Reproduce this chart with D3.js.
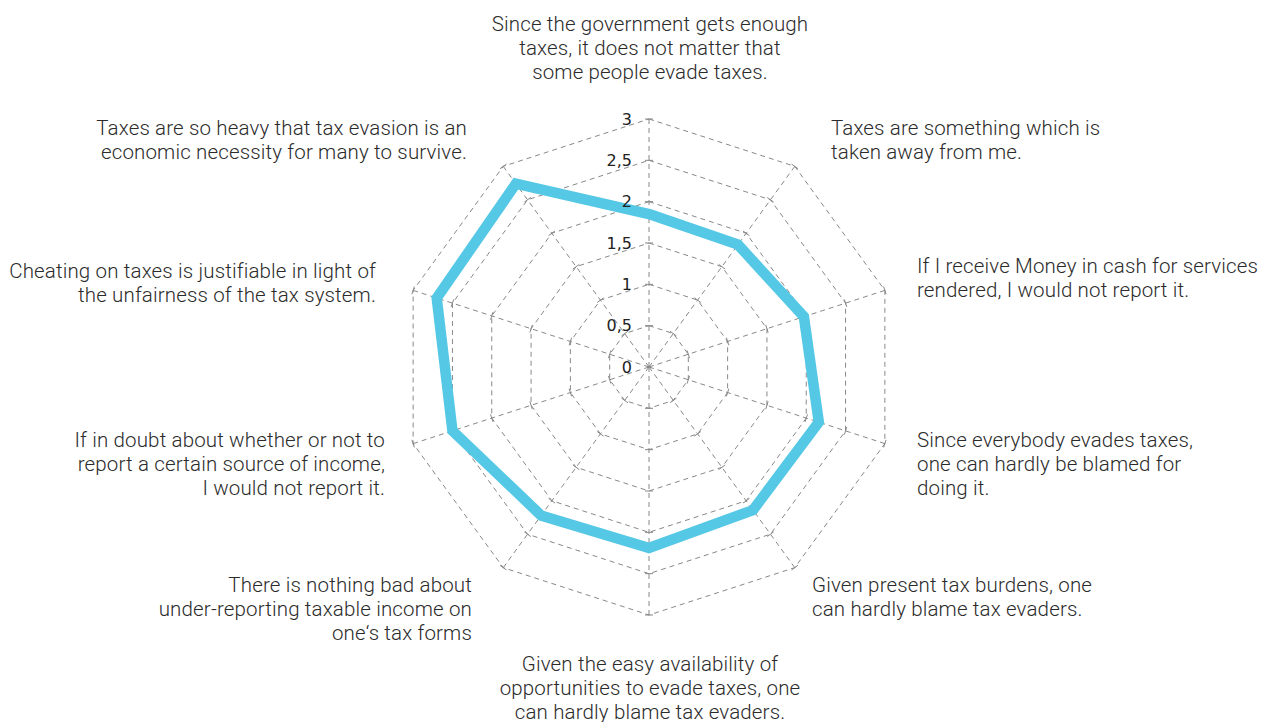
<!DOCTYPE html>
<html>
<head>
<meta charset="utf-8">
<script src="https://cdn.jsdelivr.net/npm/d3@7"></script>
<style>
    body { margin: 0; background: #fff; }
    svg { display: block; }
    .label { font-family: Roboto, "Liberation Sans", sans-serif; font-weight: 300; font-size: 20.5px; letter-spacing: 0.15px; fill: #2b2b2b; }
    .tick-label { font-family: "DejaVu Sans", sans-serif; font-size: 16px; fill: #222; }
</style>
</head>
<body>
<div id="chart"></div>
<script>
// statements, clockwise from the top
const categories = [
    ["Since the government gets enough", "taxes, it does not matter that", "some people evade taxes."],
    ["Taxes are something which is", "taken away from me."],
    ["If I receive Money in cash for services", "rendered, I would not report it."],
    ["Since everybody evades taxes,", "one can hardly be blamed for", "doing it."],
    ["Given present tax burdens, one", "can hardly blame tax evaders."],
    ["Given the easy availability of", "opportunities to evade taxes, one", "can hardly blame tax evaders."],
    ["There is nothing bad about", "under-reporting taxable income on", "one‘s tax forms"],
    ["If in doubt about whether or not to", "report a certain source of income,", "I would not report it."],
    ["Cheating on taxes is justifiable in light of", "the unfairness of the tax system."],
    ["Taxes are so heavy that tax evasion is an", "economic necessity for many to survive."]
];
const values = [1.85, 1.83, 1.97, 2.16, 2.14, 2.19, 2.22, 2.5, 2.7, 2.74];
const tickValues = [0, 0.5, 1, 1.5, 2, 2.5, 3];
const tickLabels = ["0", "0,5", "1", "1,5", "2", "2,5", "3"];

// label anchor (first baseline) and alignment, per statement
const labelLayout = [
    { x: 650, y: 31, anchor: "middle" },
    { x: 831, y: 135, anchor: "start" },
    { x: 917, y: 273, anchor: "start" },
    { x: 917, y: 447, anchor: "start" },
    { x: 812, y: 592, anchor: "start" },
    { x: 650, y: 671, anchor: "middle" },
    { x: 472, y: 592, anchor: "end" },
    { x: 385, y: 447, anchor: "end" },
    { x: 376, y: 278, anchor: "end" },
    { x: 467, y: 135, anchor: "end" }
];

const width = 1269;
const height = 722;
const cx = 649, cy = 367;
const lineHeight = 24;

const svg = d3.select("#chart")
    .append("svg")
    .attr("width", width)
    .attr("height", height);

const g = svg.append("g")
    .attr("transform", `translate(${cx},${cy})`);

const r = d3.scaleLinear().domain([0, 3]).range([0, 248]);
const angle = d3.scaleLinear().domain([0, categories.length]).range([0, 2 * Math.PI]);

const point = (i, v) => [Math.sin(angle(i)) * r(v), -Math.cos(angle(i)) * r(v)];

// rings
const ringLine = d3.lineRadial()
    .angle((d, i) => angle(i))
    .curve(d3.curveLinearClosed);

g.selectAll(".ring")
    .data(tickValues.slice(1))
    .enter().append("path")
    .attr("class", "ring")
    .attr("d", t => ringLine.radius(() => r(t))(categories))
    .attr("fill", "none")
    .attr("stroke", "#888")
    .attr("stroke-width", 1)
    .attr("stroke-dasharray", "5,4");

// spokes
g.selectAll(".spoke")
    .data(categories)
    .enter().append("line")
    .attr("class", "spoke")
    .attr("x1", 0)
    .attr("y1", 0)
    .attr("x2", (d, i) => point(i, 3)[0])
    .attr("y2", (d, i) => point(i, 3)[1])
    .attr("stroke", "#888")
    .attr("stroke-width", 1)
    .attr("stroke-dasharray", "5,4");

// small ticks across each spoke
categories.forEach((c, i) => {
    const a = angle(i);
    const px = Math.cos(a) * 4, py = Math.sin(a) * 4;
    g.selectAll(`.tick-${i}`)
        .data(tickValues.slice(1))
        .enter().append("line")
        .attr("x1", t => point(i, t)[0] - px)
        .attr("y1", t => point(i, t)[1] - py)
        .attr("x2", t => point(i, t)[0] + px)
        .attr("y2", t => point(i, t)[1] + py)
        .attr("stroke", "#888")
        .attr("stroke-width", 1);
});

// value line
const valueLine = d3.lineRadial()
    .angle((d, i) => angle(i))
    .radius(d => r(d))
    .curve(d3.curveLinearClosed);

g.append("path")
    .datum(values)
    .attr("d", valueLine)
    .attr("fill", "none")
    .attr("stroke", "#55c8e6")
    .attr("stroke-width", 10.5)
    .attr("stroke-linejoin", "miter");

// scale labels on the top spoke
g.selectAll(".tick-label")
    .data(tickValues)
    .enter().append("text")
    .attr("class", "tick-label")
    .attr("x", -17)
    .attr("y", t => -r(t))
    .attr("dy", "0.35em")
    .attr("text-anchor", "end")
    .text((t, i) => tickLabels[i]);

// statements
categories.forEach((lines, i) => {
    const pos = labelLayout[i];
    const text = svg.append("text")
        .attr("class", "label")
        .attr("text-anchor", pos.anchor);
    lines.forEach((line, j) => {
        text.append("tspan")
            .attr("x", pos.x)
            .attr("y", pos.y + j * lineHeight)
            .text(line);
    });
});
</script>
</body>
</html>
